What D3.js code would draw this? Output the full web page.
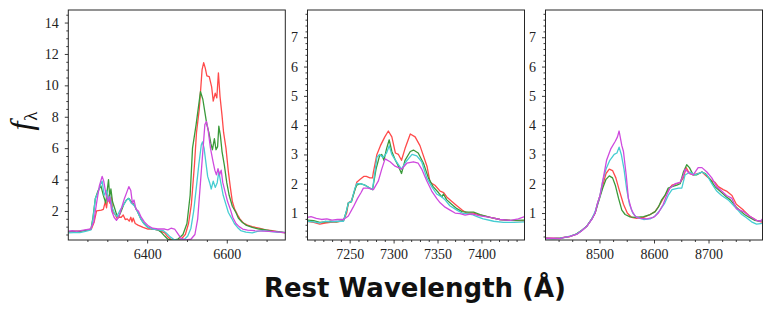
<!DOCTYPE html>
<html>
<head>
<meta charset="utf-8">
<script src="https://cdn.jsdelivr.net/npm/d3@7"></script>
<style>
  body { margin: 0; background: #fff; }
  svg { display: block; }
  .tick text, .serif { font-family: "Liberation Serif", "DejaVu Serif", serif; }
</style>
</head>
<body>
<div id="chart"></div>
<script>
const W = 773, H = 314;

// axis setup per panel
const xDomains = [[6202, 6747], [7202, 7449], [8401, 8799]];
const yDomains = [[0.15, 14.8], [0.08, 7.93], [0.08, 7.93]];
const xMajor = [[6400, 6600], [7250, 7300, 7350, 7400], [8500, 8600, 8700]];
const xMinorStep = [50, 10, 25];
const yMajorStep = [2, 1, 1];
const yMinorStep = [0.5, 0.2, 0.2];
const seriesNames = ["red", "green", "cyan", "magenta"];
const colors = {red: "#ff4a4a", green: "#3a9a3a", cyan: "#46cdd2", magenta: "#cf4ade"};

// H-alpha region [wavelength, flux]
const p1Red = [[6202,0.65],[6212,0.7],[6223,0.72],[6232,0.7],[6240,0.75],[6250,0.78],[6260,0.85],[6267,1.3],[6273,2.0],[6285,2.05],[6290,2.1],[6295,2.6],[6298,2.2],[6302,3.0],[6306,2.5],[6310,2.9],[6314,1.9],[6319,1.8],[6325,1.5],[6329,1.6],[6335,1.6],[6340,1.75],[6345,1.45],[6350,1.5],[6355,1.35],[6359,1.6],[6362,1.3],[6365,1.55],[6370,1.2],[6377,1.1],[6390,0.95],[6402,0.85],[6419,0.85],[6431,0.75],[6444,0.6],[6452,0.35],[6460,0.18],[6473,0.12],[6485,0.2],[6496,0.5],[6504,1.2],[6511,2.4],[6519,5.0],[6524,7.0],[6531,8.5],[6538,11.0],[6542,11.45],[6546,11.1],[6550,10.6],[6556,10.55],[6562,9.9],[6566,9.0],[6571,9.5],[6575,9.2],[6579,10.8],[6583,9.3],[6588,8.1],[6592,7.0],[6598,6.0],[6604,4.5],[6609,3.5],[6614,2.6],[6620,2.1],[6627,1.75],[6633,1.5],[6641,1.25],[6652,1.1],[6664,1.0],[6681,0.9],[6698,0.8],[6714,0.75],[6731,0.65],[6747,0.6]];
const p1Green = [[6202,0.68],[6215,0.7],[6231,0.72],[6245,0.76],[6259,0.85],[6264,1.6],[6270,2.8],[6277,3.3],[6284,3.6],[6290,3.0],[6296,2.5],[6303,4.0],[6306,2.9],[6309,3.4],[6313,2.6],[6318,2.2],[6323,1.8],[6328,1.6],[6335,2.0],[6341,2.4],[6348,2.7],[6354,2.8],[6360,2.6],[6367,2.4],[6375,2.0],[6384,1.5],[6392,1.2],[6402,0.95],[6414,0.85],[6427,0.8],[6435,0.65],[6444,0.4],[6452,0.2],[6465,0.13],[6477,0.2],[6490,0.5],[6500,1.2],[6508,3.0],[6514,6.0],[6523,7.5],[6534,9.6],[6540,9.1],[6545,8.3],[6550,7.5],[6555,7.0],[6560,6.3],[6564,5.9],[6569,6.6],[6573,5.9],[6577,6.1],[6580,7.4],[6584,6.8],[6588,5.8],[6594,4.9],[6600,3.8],[6606,3.0],[6614,2.3],[6623,1.9],[6629,1.55],[6638,1.3],[6648,1.1],[6664,0.95],[6681,0.85],[6698,0.8],[6714,0.72],[6731,0.68],[6747,0.62]];
const p1Cyan = [[6202,0.6],[6215,0.62],[6231,0.62],[6245,0.7],[6259,0.8],[6264,1.5],[6270,2.8],[6277,3.2],[6283,3.7],[6287,3.9],[6292,3.0],[6298,3.3],[6304,2.7],[6307,2.9],[6312,2.2],[6319,1.8],[6324,1.65],[6331,2.0],[6340,2.35],[6348,2.7],[6354,2.8],[6360,2.5],[6369,2.3],[6375,2.0],[6384,1.5],[6392,1.2],[6402,0.95],[6414,0.85],[6427,0.8],[6440,0.75],[6448,0.6],[6458,0.35],[6469,0.15],[6481,0.12],[6494,0.2],[6502,0.4],[6510,0.9],[6517,2.0],[6524,3.6],[6530,5.0],[6536,6.2],[6539,6.4],[6543,6.0],[6548,5.0],[6552,4.2],[6557,3.8],[6561,3.4],[6566,3.9],[6571,3.5],[6576,3.8],[6580,4.5],[6585,3.8],[6591,3.0],[6598,2.4],[6604,1.9],[6613,1.5],[6619,1.2],[6627,0.95],[6635,0.75],[6648,0.65],[6664,0.6],[6677,0.7],[6690,0.75],[6706,0.7],[6723,0.65],[6747,0.62]];
const p1Magenta = [[6202,0.72],[6212,0.74],[6223,0.7],[6240,0.78],[6258,0.85],[6266,1.3],[6273,2.5],[6280,3.6],[6287,4.2],[6291,3.9],[6297,3.0],[6302,2.6],[6306,2.9],[6311,2.0],[6317,1.6],[6323,1.4],[6330,1.7],[6337,2.3],[6343,2.8],[6349,3.2],[6354,3.55],[6359,3.3],[6363,2.5],[6367,2.7],[6372,2.1],[6378,2.0],[6385,1.6],[6393,1.3],[6403,1.05],[6414,0.9],[6427,0.85],[6444,0.85],[6452,0.8],[6460,0.9],[6469,0.85],[6477,0.55],[6485,0.25],[6498,0.15],[6510,0.2],[6520,0.5],[6527,1.5],[6533,3.5],[6539,5.5],[6545,7.5],[6549,7.7],[6553,7.2],[6559,6.0],[6565,5.2],[6570,4.6],[6574,4.3],[6578,4.7],[6582,4.3],[6586,4.6],[6590,3.8],[6596,3.2],[6602,2.6],[6609,2.1],[6615,1.6],[6623,1.2],[6631,1.0],[6640,0.85],[6652,0.78],[6669,0.75],[6694,0.72],[6719,0.68],[6747,0.62]];

// [Ca II] 7300 region
const p2Red = [[7202,0.72],[7209,0.68],[7216,0.62],[7222,0.66],[7228,0.68],[7235,0.7],[7240,0.72],[7243,0.75],[7246.6,1.0],[7248.5,1.35],[7252,1.42],[7256,1.8],[7258,2.05],[7262,2.15],[7266,2.25],[7269,2.25],[7273,2.2],[7276,2.2],[7277,2.4],[7281,3.0],[7285,3.3],[7290,3.6],[7294,3.8],[7298,3.6],[7302,3.05],[7305.5,3.0],[7309,2.8],[7313,3.2],[7319,3.7],[7324.5,3.6],[7330,3.3],[7338,2.6],[7341.5,2.05],[7347,1.95],[7353,1.75],[7357,1.7],[7360.5,1.55],[7366,1.4],[7372,1.25],[7378,1.1],[7383,1.0],[7391,1.0],[7398.5,0.93],[7410,0.85],[7421,0.78],[7433,0.75],[7449,0.73]];
const p2Green = [[7202,0.76],[7209,0.74],[7216,0.68],[7222,0.7],[7228,0.72],[7235,0.7],[7243,0.74],[7246.6,1.1],[7248.5,1.35],[7252,1.38],[7256,1.8],[7258,1.95],[7262,2.0],[7267.5,1.95],[7273,1.85],[7276,1.8],[7280,2.5],[7284,2.95],[7286.5,3.0],[7289,2.8],[7292,3.2],[7295,3.5],[7298,3.1],[7302,2.8],[7305.5,2.6],[7309,2.35],[7313,2.8],[7319,3.1],[7322.6,3.15],[7328,3.05],[7334,2.7],[7339.6,2.2],[7345,1.9],[7351,1.7],[7355,1.55],[7356.7,1.65],[7360.5,1.45],[7366,1.3],[7372,1.15],[7378,1.05],[7385,1.03],[7391,1.03],[7398.5,0.95],[7410,0.85],[7421,0.78],[7433,0.75],[7449,0.76]];
const p2Cyan = [[7202,0.72],[7209,0.7],[7216,0.66],[7222,0.72],[7228,0.7],[7235,0.72],[7243,0.72],[7246.6,1.1],[7248.5,1.35],[7252,1.4],[7256,1.85],[7258,2.0],[7262,2.0],[7267.5,1.95],[7273,1.85],[7276,1.8],[7281,2.9],[7284,3.0],[7288,2.9],[7292,3.05],[7295,3.3],[7298,3.0],[7300,2.9],[7305.5,2.65],[7309,2.5],[7314,2.75],[7321,3.0],[7326.4,2.95],[7332,2.75],[7337.7,2.2],[7343.4,1.9],[7349,1.65],[7354.8,1.55],[7358.6,1.45],[7364,1.25],[7372,1.1],[7378,1.0],[7389,0.95],[7395,0.88],[7402,0.8],[7414,0.72],[7425,0.68],[7437,0.68],[7449,0.7]];
const p2Magenta = [[7202,0.85],[7206,0.88],[7212,0.82],[7218,0.78],[7224,0.8],[7230,0.76],[7236,0.78],[7243,0.78],[7248.5,0.9],[7254,1.2],[7259,1.5],[7263,1.7],[7265.6,1.85],[7271,1.85],[7277,1.8],[7282.7,2.1],[7286.5,2.5],[7290.3,2.85],[7296,2.75],[7301.7,2.6],[7305.5,2.55],[7309.3,2.5],[7315,2.7],[7322.6,2.75],[7328,2.7],[7332,2.5],[7337.7,2.1],[7343.4,1.75],[7349,1.5],[7353,1.35],[7358.6,1.2],[7364.3,1.1],[7370,1.0],[7375.7,0.98],[7381.4,0.93],[7389,0.97],[7398.5,0.9],[7410,0.85],[7421,0.78],[7433,0.75],[7442,0.8],[7449,0.88]];

// Ca II triplet region
const p3Red = [[8401,0.14],[8415,0.14],[8428,0.14],[8434,0.17],[8446,0.2],[8458,0.28],[8467,0.4],[8477,0.55],[8486,0.8],[8492,1.0],[8496,1.3],[8501,1.6],[8506,1.95],[8512,2.35],[8518,2.5],[8524,2.45],[8530,2.2],[8536,1.8],[8544,1.3],[8551,1.0],[8559,0.85],[8568,0.82],[8581,0.85],[8593,0.95],[8602,1.05],[8611,1.3],[8617,1.5],[8625,1.75],[8633,1.95],[8642,2.0],[8648,2.05],[8654,2.2],[8659,2.55],[8665,2.35],[8672,2.3],[8681,2.35],[8688,2.4],[8697,2.25],[8706,2.1],[8712,2.05],[8718,1.9],[8727,1.8],[8733,1.75],[8743,1.6],[8751,1.3],[8764,1.1],[8775,0.9],[8788,0.75],[8799,0.68]];
const p3Green = [[8401,0.14],[8415,0.13],[8428,0.14],[8434,0.16],[8446,0.2],[8458,0.29],[8467,0.4],[8477,0.56],[8486,0.8],[8492,1.0],[8496,1.25],[8501,1.55],[8506,1.85],[8512,2.15],[8518,2.27],[8524,2.2],[8529,1.95],[8535,1.5],[8541,1.1],[8547,0.95],[8556,0.87],[8565,0.85],[8581,0.88],[8593,0.95],[8602,1.05],[8608,1.2],[8614,1.45],[8620,1.6],[8626,1.85],[8633,1.9],[8642,1.95],[8648,2.0],[8654,2.4],[8660,2.65],[8665,2.55],[8672,2.3],[8678,2.3],[8688,2.4],[8694,2.35],[8703,2.15],[8712,1.9],[8724,1.7],[8733,1.55],[8740,1.45],[8751,1.2],[8757,1.1],[8766,0.95],[8775,0.85],[8785,0.75],[8795,0.72],[8799,0.75]];
const p3Cyan = [[8401,0.13],[8415,0.13],[8428,0.14],[8434,0.16],[8446,0.21],[8458,0.28],[8467,0.4],[8477,0.55],[8486,0.8],[8492,1.05],[8496,1.3],[8501,1.6],[8506,2.1],[8512,2.5],[8519,2.8],[8527,3.0],[8532,3.05],[8536,3.25],[8540,3.0],[8545,2.5],[8550,1.8],[8555,1.3],[8561,1.0],[8568,0.85],[8581,0.78],[8593,0.8],[8602,0.9],[8611,1.1],[8620,1.35],[8626,1.6],[8633,1.8],[8645,1.85],[8651,1.85],[8657,2.3],[8666,2.4],[8675,2.3],[8688,2.4],[8697,2.3],[8706,2.0],[8715,1.75],[8724,1.6],[8736,1.45],[8749,1.2],[8761,0.95],[8769,0.85],[8779,0.7],[8788,0.62],[8799,0.65]];
const p3Magenta = [[8401,0.14],[8415,0.14],[8428,0.13],[8434,0.16],[8446,0.2],[8458,0.27],[8467,0.39],[8477,0.55],[8486,0.78],[8492,1.0],[8496,1.3],[8501,1.6],[8506,2.1],[8513,2.8],[8521,3.2],[8529,3.45],[8533,3.6],[8536,3.8],[8541,3.3],[8544,3.1],[8549,2.3],[8553,1.5],[8559,1.1],[8565,0.9],[8574,0.82],[8587,0.8],[8599,0.85],[8608,1.0],[8617,1.3],[8623,1.6],[8629,1.85],[8639,2.0],[8648,2.05],[8654,2.3],[8657,2.5],[8665,2.35],[8672,2.3],[8681,2.55],[8688,2.55],[8697,2.4],[8706,2.2],[8715,1.9],[8724,1.75],[8733,1.6],[8743,1.5],[8751,1.15],[8764,1.05],[8775,0.9],[8788,0.75],[8795,0.72],[8799,0.8]];

const panelSeries = [
  {red: p1Red, green: p1Green, cyan: p1Cyan, magenta: p1Magenta},
  {red: p2Red, green: p2Green, cyan: p2Cyan, magenta: p2Magenta},
  {red: p3Red, green: p3Green, cyan: p3Cyan, magenta: p3Magenta}
];

const panelLeft = [68.3, 307.5, 545.5];
const panelW = 217;
const plotTop = 10, plotBottom = 240;
const frameColor = "#262626";

const svg = d3.select("#chart").append("svg")
  .attr("width", W).attr("height", H)
  .style("background", "#fff");

panelSeries.forEach((series, i) => {
  const x = d3.scaleLinear().domain(xDomains[i]).range([panelLeft[i], panelLeft[i] + panelW]);
  const y = d3.scaleLinear().domain(yDomains[i]).range([plotBottom, plotTop]);

  svg.append("clipPath").attr("id", "clip" + i)
    .append("rect")
    .attr("x", panelLeft[i]).attr("y", plotTop)
    .attr("width", panelW).attr("height", plotBottom - plotTop);

  const line = d3.line().x(d => x(d[0])).y(d => y(d[1]));

  const g = svg.append("g").attr("clip-path", `url(#clip${i})`);
  seriesNames.forEach(name => {
    g.append("path")
      .datum(series[name])
      .attr("fill", "none")
      .attr("stroke", colors[name])
      .attr("stroke-width", 1.3)
      .attr("stroke-linejoin", "round")
      .attr("d", line);
  });

  // x axis: majors labelled, minors plain
  const xMinor = d3.range(Math.ceil(xDomains[i][0] / xMinorStep[i]) * xMinorStep[i], xDomains[i][1], xMinorStep[i])
    .filter(v => !xMajor[i].includes(v));
  const xAxisMin = svg.append("g").attr("transform", `translate(0,${plotBottom})`)
    .call(d3.axisBottom(x).tickValues(xMinor).tickSize(2).tickFormat(""));
  xAxisMin.select(".domain").remove();
  const xAxisMaj = svg.append("g").attr("transform", `translate(0,${plotBottom})`)
    .call(d3.axisBottom(x).tickValues(xMajor[i]).tickSize(3.5).tickPadding(6).tickFormat(d3.format("d")));
  xAxisMaj.select(".domain").remove();
  [xAxisMin, xAxisMaj].forEach(a => a.selectAll("line").attr("stroke", frameColor).attr("stroke-width", 0.9));
  xAxisMaj.selectAll("text").attr("font-size", 14).attr("fill", "#222");

  // y axis
  const yMaj = d3.range(yMajorStep[i], yDomains[i][1], yMajorStep[i]);
  const yMin = d3.range(0, yDomains[i][1], yMinorStep[i])
    .map(v => Math.round(v * 10) / 10)
    .filter(v => v >= yDomains[i][0] && !yMaj.some(m => Math.abs(m - v) < 1e-6));
  const yAxisMin = svg.append("g").attr("transform", `translate(${panelLeft[i]},0)`)
    .call(d3.axisLeft(y).tickValues(yMin).tickSize(2).tickFormat(""));
  yAxisMin.select(".domain").remove();
  const yAxisMaj = svg.append("g").attr("transform", `translate(${panelLeft[i]},0)`)
    .call(d3.axisLeft(y).tickValues(yMaj).tickSize(3.5).tickPadding(6).tickFormat(d3.format("d")));
  yAxisMaj.select(".domain").remove();
  [yAxisMin, yAxisMaj].forEach(a => a.selectAll("line").attr("stroke", frameColor).attr("stroke-width", 0.9));
  yAxisMaj.selectAll("text").attr("font-size", 14).attr("fill", "#222");

  // frame
  svg.append("rect")
    .attr("x", panelLeft[i]).attr("y", plotTop)
    .attr("width", panelW).attr("height", plotBottom - plotTop)
    .attr("fill", "none")
    .attr("stroke", frameColor)
    .attr("stroke-width", 1);
});

// shared x label
svg.append("text")
  .attr("x", 415).attr("y", 297)
  .attr("text-anchor", "middle")
  .attr("font-family", "DejaVu Sans, sans-serif")
  .attr("font-weight", "bold")
  .attr("font-size", 26)
  .attr("fill", "#111")
  .text("Rest Wavelength (Å)");

// y label f_lambda
const yl = svg.append("text")
  .attr("class", "serif")
  .attr("transform", "translate(32,121) rotate(-90)")
  .attr("text-anchor", "middle")
  .attr("fill", "#111");
yl.append("tspan").attr("font-style", "italic").attr("font-size", 32).text("f");
yl.append("tspan").attr("font-size", 19).attr("dy", 5).attr("dx", 1).text("λ");
</script>
</body>
</html>
